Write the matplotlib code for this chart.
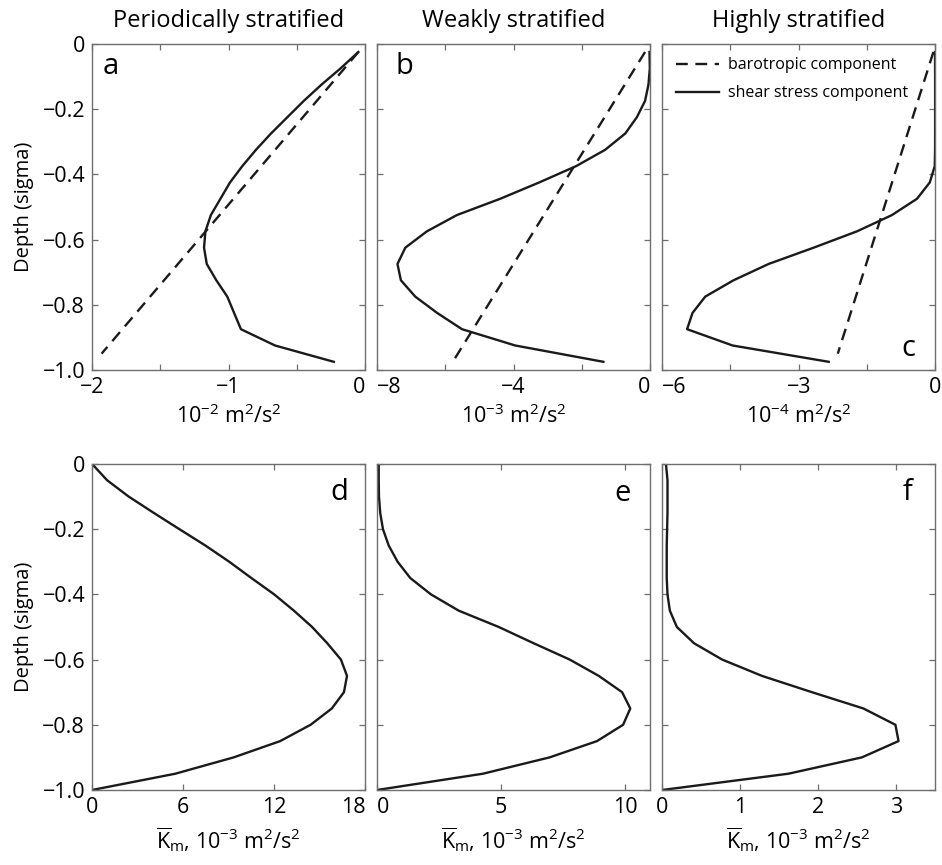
import matplotlib as mpl
mpl.use('Agg')
import matplotlib.pyplot as plt

mpl.rcParams.update({'font.family': ['Open Sans', 'DejaVu Sans'],
                     'font.size': 13,
                     'mathtext.default': 'regular',
                     'axes.unicode_minus': True})

# sigma levels
sig_mid = [-0.025, -0.075, -0.125, -0.175, -0.225, -0.275, -0.325, -0.375, -0.425, -0.475,
           -0.525, -0.575, -0.625, -0.675, -0.725, -0.775, -0.825, -0.875, -0.925, -0.975]
sig_full = [0.0, -0.05, -0.10, -0.15, -0.20, -0.25, -0.30, -0.35, -0.40, -0.45, -0.50,
            -0.55, -0.60, -0.65, -0.70, -0.75, -0.80, -0.85, -0.90, -0.95, -1.0]

# top row: barotropic (dashed) and shear stress (solid) components
baro_depth_a = [-0.025, -0.95]
baro_a = [-0.05, -1.93]
shear_a = [-0.05, -0.18, -0.32, -0.45, -0.57, -0.69, -0.80, -0.90, -0.99, -1.06,
           -1.13, -1.17, -1.18, -1.16, -1.09, -1.01, -0.96, -0.91, -0.66, -0.23]

baro_depth_b = [-0.025, -0.975]
baro_b = [-0.15, -5.78]
shear_b = [-0.02, -0.01, -0.05, -0.15, -0.39, -0.73, -1.32, -2.17, -3.25, -4.39,
           -5.66, -6.54, -7.17, -7.40, -7.30, -6.88, -6.24, -5.51, -3.95, -1.37]

baro_depth_c = [-0.025, -0.95]
baro_c = [-0.04, -2.14]
shear_c = [-0.005, -0.003, -0.002, -0.002, -0.002, -0.002, -0.003, -0.01, -0.12, -0.40,
           -0.95, -1.72, -2.67, -3.66, -4.43, -5.05, -5.33, -5.45, -4.45, -2.34]

# bottom row: mean K_m profiles
km_d = [0.0, 0.99, 2.41, 4.06, 5.75, 7.46, 9.04, 10.5, 12.0, 13.3, 14.5,
        15.5, 16.4, 16.8, 16.6, 15.8, 14.4, 12.4, 9.33, 5.49, 0.0]
km_e = [0.07, 0.07, 0.08, 0.13, 0.24, 0.47, 0.83, 1.34, 2.17, 3.29, 4.9,
        6.31, 7.76, 8.93, 9.87, 10.2, 9.91, 8.86, 6.95, 4.27, 0.0]
km_f = [0.05, 0.07, 0.07, 0.07, 0.065, 0.06, 0.06, 0.06, 0.07, 0.10, 0.19,
        0.41, 0.77, 1.28, 1.92, 2.58, 2.99, 3.03, 2.56, 1.62, 0.0]

titles = ['Periodically stratified', 'Weakly stratified', 'Highly stratified']

top_xlim = [(-2, 0), (-8, 0), (-6, 0)]
top_xticks = [[-2, -1.5, -1, -0.5, 0], [-8, -6, -4, -2, 0], [-6, -4.5, -3, -1.5, 0]]
top_xlabels = [['\u22122', '', '\u22121', '', '0'],
               ['\u22128', '', '\u22124', '', '0'],
               ['\u22126', '', '\u22123', '', '0']]
top_units = [r'$10^{-2}$ m$^2$/s$^2$', r'$10^{-3}$ m$^2$/s$^2$', r'$10^{-4}$ m$^2$/s$^2$']

bot_xlim = [(0, 18), (0, 11), (0, 3.5)]
bot_xticks = [[0, 6, 12, 18], [0, 5, 10], [0, 1, 2, 3]]
bot_unit = r'$\overline{K}_m$, $10^{-3}$ m$^2$/s$^2$'

yticks = [0, -0.2, -0.4, -0.6, -0.8, -1.0]
ylabels = ['0', '\u22120.2', '\u22120.4', '\u22120.6', '\u22120.8', '\u22121.0']

fig = plt.figure(figsize=(9.42, 8.65), dpi=100)
lefts = [0.0977, 0.4002, 0.7028]
w, h = 0.290, 0.377
bottoms = [0.5723, 0.0867]

axes = [[fig.add_axes([l, b, w, h]) for l in lefts] for b in bottoms]

lw = 1.7
dash = (5, 3.2)
frame_col = '#6e6e6e'

baro = [(baro_depth_a, baro_a), (baro_depth_b, baro_b), (baro_depth_c, baro_c)]
shear = [shear_a, shear_b, shear_c]
kms = [km_d, km_e, km_f]

for j in range(3):
    ax = axes[0][j]
    ax.plot(baro[j][1], baro[j][0], color='#1a1a1a', lw=lw, dashes=dash,
            label='barotropic component')
    ax.plot(shear[j], sig_mid, color='#1a1a1a', lw=lw, label='shear stress component')
    ax.set_xlim(top_xlim[j])
    ax.set_xticks(top_xticks[j], top_xlabels[j])
    ax.set_xlabel(top_units[j], fontsize=15.5, labelpad=5)
    ax.set_title(titles[j], fontsize=17, pad=12)

    ax = axes[1][j]
    ax.plot(kms[j], sig_full, color='#1a1a1a', lw=lw)
    ax.set_xlim(bot_xlim[j])
    ax.set_xticks(bot_xticks[j], [str(t) for t in bot_xticks[j]])
    ax.set_xlabel(bot_unit, fontsize=15.5, labelpad=5)

for row in axes:
    for j, ax in enumerate(row):
        ax.set_ylim(-1.0, 0)
        ax.set_yticks(yticks)
        if j == 0:
            ax.set_yticklabels(ylabels)
            ax.set_ylabel('Depth (sigma)', fontsize=14.5, labelpad=6)
        else:
            ax.set_yticklabels([])
        ax.tick_params(direction='in', length=4.5, width=0.9, color=frame_col,
                       top=True, right=True, labelsize=15.5, pad=5)
        for s in ax.spines.values():
            s.set_color(frame_col)
            s.set_linewidth(1.0)

# end labels that meet a neighbouring panel are aligned to the frame edge
for ax in [axes[0][0], axes[0][1], axes[1][0]]:
    ax.get_xticklabels()[-1].set_horizontalalignment('right')
for ax in [axes[0][1], axes[0][2], axes[1][1]]:
    ax.get_xticklabels()[0].set_horizontalalignment('left')

axes[0][2].legend(loc='upper left', frameon=False, fontsize=11.5, handlelength=2.7,
                  handletextpad=0.6, borderaxespad=0.45, labelspacing=0.75,
                  borderpad=0.4)

letters = [('a', 0.067, 0.93), ('b', 0.10, 0.93), ('c', 0.90, 0.065),
           ('d', 0.905, 0.913), ('e', 0.90, 0.91), ('f', 0.90, 0.913)]
flat = axes[0] + axes[1]
for ax, (t, x, y) in zip(flat, letters):
    ax.text(x, y, t, transform=ax.transAxes, fontsize=21, ha='center', va='center')

fig.savefig('out.png', dpi=100)
